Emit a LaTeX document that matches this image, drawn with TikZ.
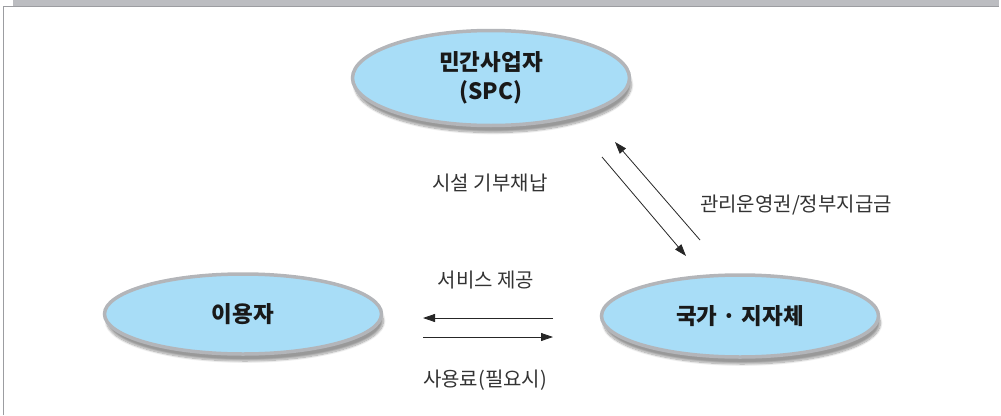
\documentclass[tikz,border=0pt]{standalone}
\usepackage{fontspec}
\setmainfont{Noto Sans CJK KR}
\usepackage{xcolor}
\usetikzlibrary{arrows.meta,shapes.geometric,shadows.blur}
\definecolor{partyblue}{HTML}{A8DDF7}
\definecolor{rimgray}{HTML}{B3B5B9}
\definecolor{bandgray}{HTML}{BCBDC1}
\definecolor{framegray}{HTML}{9C9DA1}
\definecolor{inkgray}{HTML}{333333}

\begin{document}
\begin{tikzpicture}[x=1pt,y=-1pt,
  party/.style={ellipse,draw=rimgray,line width=3.5pt,fill=partyblue,minimum width=277pt,minimum height=82pt,inner sep=0pt,
    align=center,text=black!90,font=\fontsize{22.5}{29}\selectfont\bfseries,
    blur shadow={shadow xshift=2pt,shadow yshift=-7pt,shadow opacity=40,shadow blur steps=12}},
  flow/.style={-{Triangle[length=12pt,width=8pt]},line width=0.8pt,black!85},
  tag/.style={font=\fontsize{20}{24}\selectfont,text=inkgray}]
  \useasboundingbox (0,0) rectangle (1001,415);
  % frame
  \fill[bandgray] (13,0) rectangle (999,5.5);
  \draw[framegray,line width=1.5pt] (3.7,415) -- (3.7,6.3) -- (999,6.3);
  % parties
  \node[party,minimum height=95pt] (spc) at (491,78) {민간사업자\\(SPC)};
  \node[party,minimum height=80pt] (user) at (243,314) {이용자};
  \node[party] (gov) at (740,316) {국가 · 지자체};
  % arrow ends
  \coordinate (d1s) at (602,157); \coordinate (d1e) at (686,256);
  \coordinate (d2s) at (700,240); \coordinate (d2e) at (615,142);
  \coordinate (h1s) at (553,318); \coordinate (h1e) at (423,318);
  \coordinate (h2s) at (423,337); \coordinate (h2e) at (553,337);
  \draw[flow] (d1s) -- (d1e);
  \draw[flow] (d2s) -- (d2e);
  \draw[flow] (h1s) -- (h1e);
  \draw[flow] (h2s) -- (h2e);
  % labels
  \node[tag] (donate) at (490,183) {시설 기부채납};
  \node[tag] (rights) at (796,205) {관리운영권/정부지급금};
  \node[tag] (service) at (486,280) {서비스 제공};
  \node[tag] (fee) at (485,380) {사용료(필요시)};
\end{tikzpicture}
\end{document}
